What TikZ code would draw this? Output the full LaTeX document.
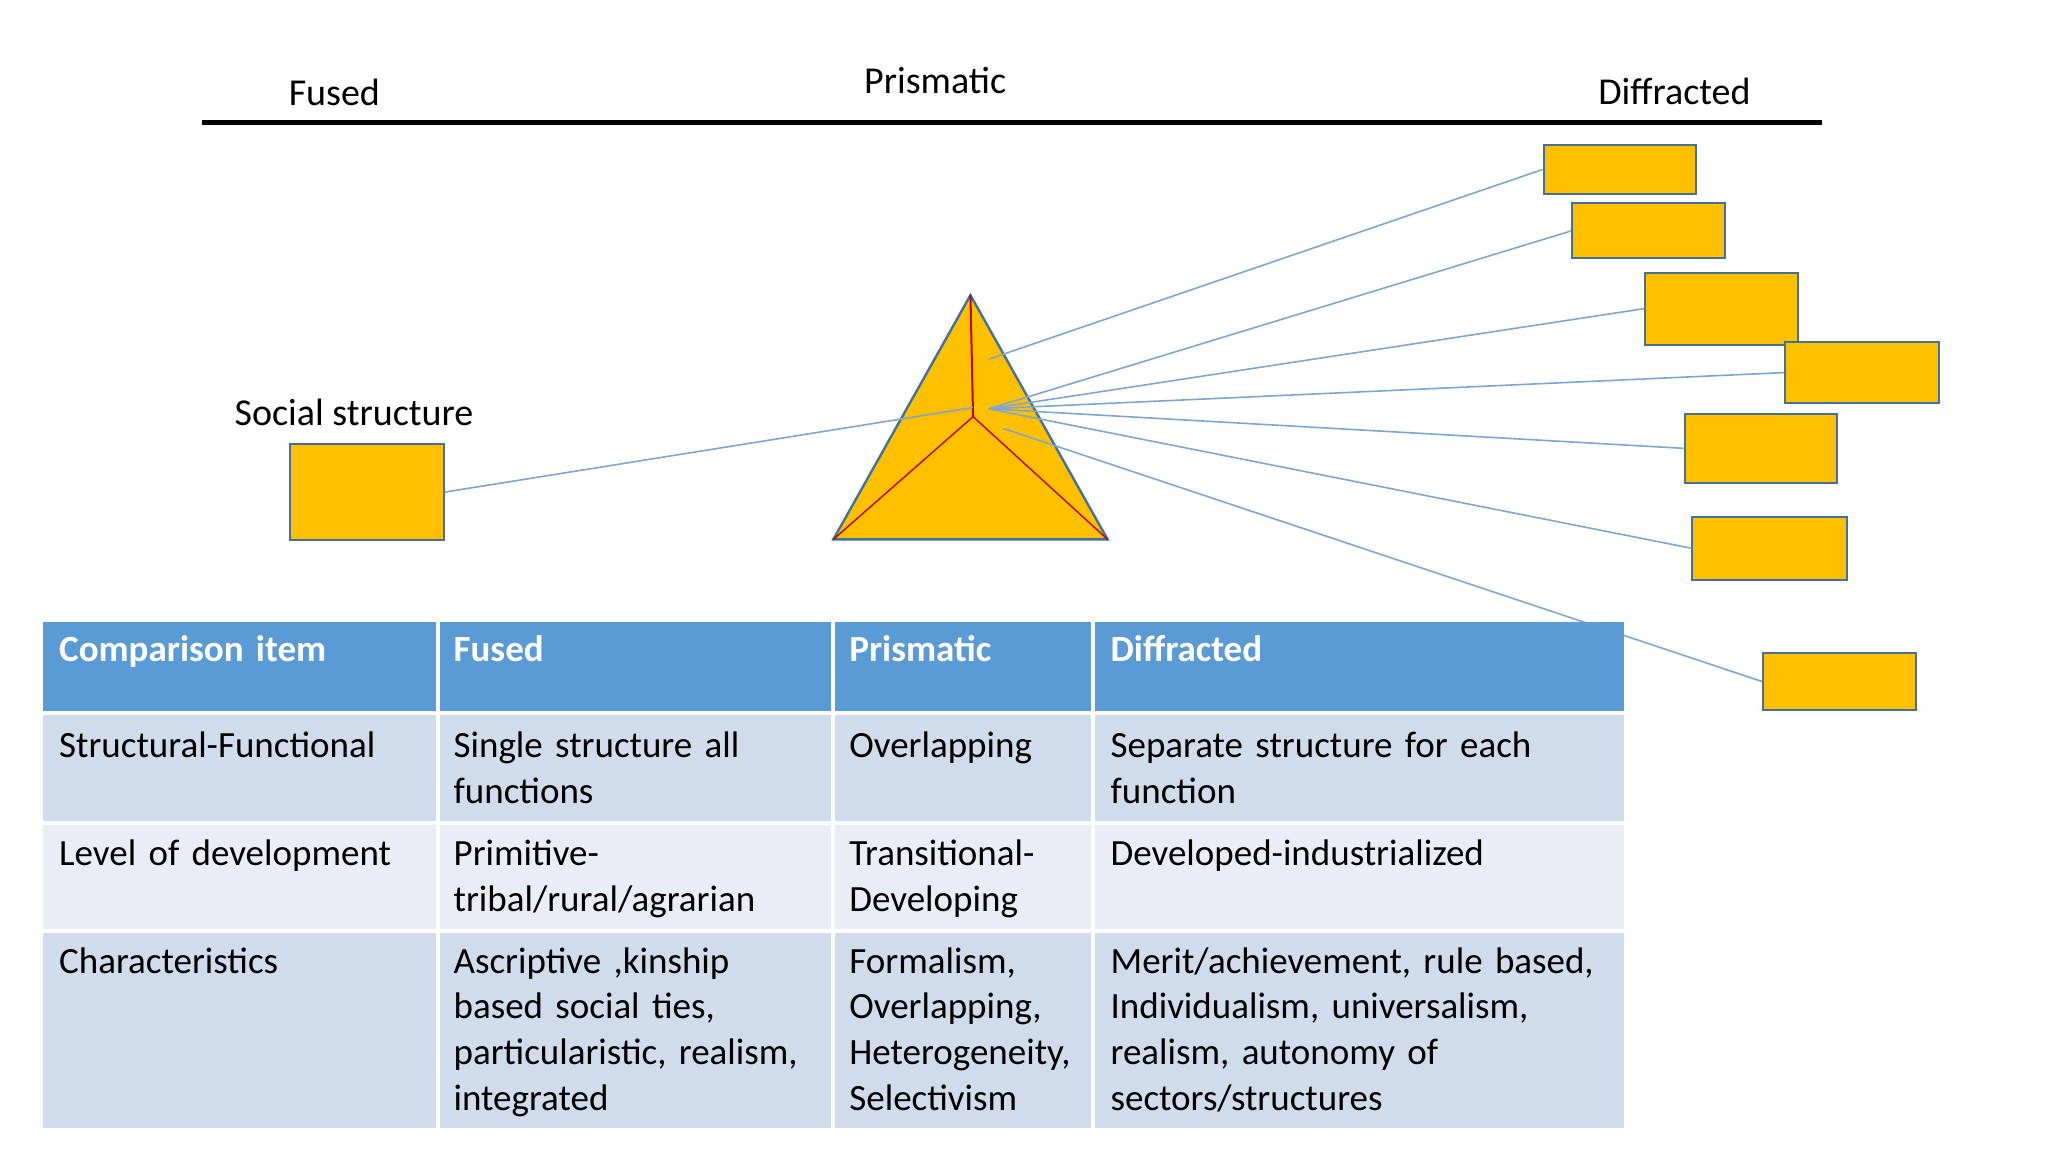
\documentclass[tikz,border=0pt]{standalone}
\usepackage{fontspec}
\setmainfont{Carlito}
\begin{document}
\begin{tikzpicture}[x=0.653pt,y=-0.653pt,
  box/.style={draw=gline,fill=gold,line width=1pt},
  ray/.style={draw=ray,line width=0.8pt},
  txt/.style={font=\fontsize{18.5}{22.9}\selectfont,inner sep=0pt},
  cell/.style={txt,anchor=north west,align=left,text width=#1},
  hcell/.style={cell=#1,text=white,font=\fontsize{18.5}{22.9}\selectfont\bfseries}]
\definecolor{gold}{HTML}{FFC000}
\definecolor{gline}{HTML}{41719C}
\definecolor{ray}{HTML}{7FA6CF}
\definecolor{hdr}{HTML}{5B9BD5}
\definecolor{rowA}{HTML}{D0DCEB}
\definecolor{rowB}{HTML}{E9EEF6}
\useasboundingbox (0,0) rectangle (1568,882);
% top scale
\coordinate (L0) at (155,94); \coordinate (L1) at (1395,94);
\draw[line width=2.6pt] (L0) -- (L1);
\node[txt,font=\fontsize{19}{23}\selectfont] (fused) at (256,71) {Fused};
\node[txt,font=\fontsize{19}{23}\selectfont] (prism) at (716,62) {Prismatic};
\node[txt,font=\fontsize{19}{23}\selectfont] (diff) at (1282,70) {Diffracted};
% social structure
\node[txt,font=\fontsize{19}{23}\selectfont] (ss) at (271,316) {Social structure};
\node[box,minimum width=118*0.653pt,minimum height=74*0.653pt,anchor=north west,inner sep=0pt] (sbox) at (221,339) {};
% boxes
\foreach \n/\x/\y/\w/\h in {b1/1181/110/117/38, b2/1203/155/117/42, b3/1259/208/117/55, b4/1366/261/118/47, b5/1289/316/117/53, b6/1295/395/118/48, b7/1349/499/117/44}{
  \node[box,minimum width=\w*0.653pt,minimum height=\h*0.653pt,anchor=north west,inner sep=0pt] (\n) at (\x,\y) {};
}
% triangle
\coordinate (apex) at (743,226); \coordinate (bl) at (638,413); \coordinate (br) at (848,413);
\coordinate (ctr) at (745,319);
\draw[fill=gold,draw=gline,line width=1.2pt] (apex) -- (bl) -- (br) -- cycle;
\draw[red!75!black,line width=1pt] (apex) -- (ctr);
\draw[red!75!black,line width=0.7pt] (ctr) -- (bl) (ctr) -- (br);
% rays
\coordinate (s0) at (745,312);
\coordinate (o1) at (757,275); \coordinate (o) at (757,313); \coordinate (o2) at (768,328);
\draw[ray] (sbox.east) -- (s0);
\draw[ray] (o1) -- (b1.west);
\draw[ray] (o) -- (b2.west);
\draw[ray] (o) -- (b3.west);
\draw[ray] (o) -- (b4.west);
\draw[ray] (o) -- (b5.west);
\draw[ray] (o) -- (b6.west);
\draw[ray] (o2) -- (b7.west);
% table
\fill[hdr] (33,476) rectangle (1243,546);
\fill[rowA] (33,546) rectangle (1243,630);
\fill[rowB] (33,630) rectangle (1243,713);
\fill[rowA] (33,713) rectangle (1243,864);
\foreach \y in {546,630,713} \draw[white,line width=2pt] (33,\y) -- (1243,\y);
\foreach \x in {335,638,837} \draw[white,line width=2pt] (\x,476) -- (\x,864);
\node[hcell=270pt] (h1) at (45,486) {Comparison item};
\node[hcell=190pt] (h2) at (347,486) {Fused};
\node[hcell=125pt] (h3) at (650,486) {Prismatic};
\node[hcell=255pt] (h4) at (850,486) {Diffracted};
\node[cell=190pt] (c11) at (45,560) {Structural-Functional};
\node[cell=190pt] (c12) at (347,560) {Single structure all\\functions};
\node[cell=125pt] (c13) at (650,560) {Overlapping};
\node[cell=255pt] (c14) at (850,560) {Separate structure for each\\function};
\node[cell=190pt] (c21) at (45,643) {Level of development};
\node[cell=190pt] (c22) at (347,643) {Primitive-\\tribal/rural/agrarian};
\node[cell=125pt] (c23) at (650,643) {Transitional-\\Developing};
\node[cell=255pt] (c24) at (850,643) {Developed-industrialized};
\node[cell=190pt] (c31) at (45,725) {Characteristics};
\node[cell=190pt] (c32) at (347,725) {Ascriptive ,kinship\\based social ties,\\particularistic, realism,\\integrated};
\node[cell=125pt] (c33) at (650,725) {Formalism,\\Overlapping,\\Heterogeneity,\\Selectivism};
\node[cell=255pt] (c34) at (850,725) {Merit/achievement, rule based,\\Individualism, universalism,\\realism, autonomy of\\sectors/structures};
\end{tikzpicture}
\end{document}
